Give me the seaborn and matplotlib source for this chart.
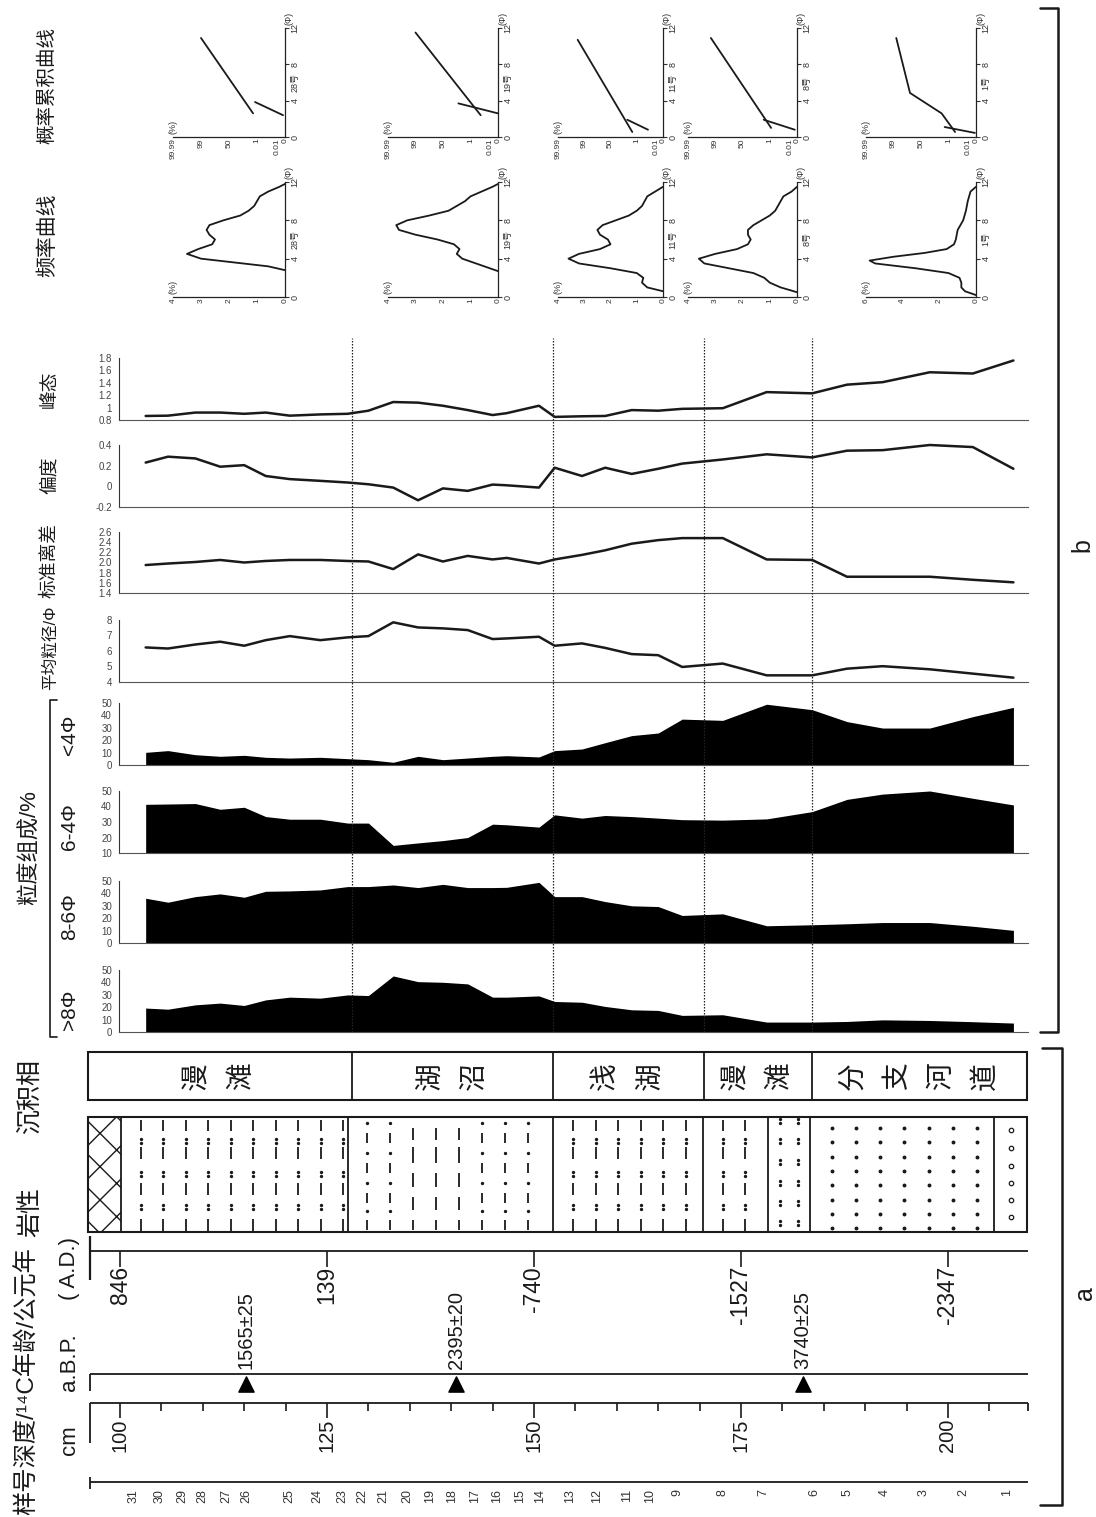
import numpy as np
import matplotlib
matplotlib.use("Agg")
import matplotlib.pyplot as plt
from matplotlib.patches import Rectangle
import seaborn as sns

W, H = 1096, 1517

# ---------------- data (samples listed from 31 down to 1) ----------------
sample_no = list(range(31, 0, -1))
sample_label_depth = [101.6, 104.8, 107.5, 110.0, 112.9, 115.3, 120.5, 123.8, 126.9, 129.3,
                      131.8, 134.7, 137.4, 140.1, 142.9, 145.5, 148.3, 150.7, 154.3, 157.6,
                      161.2, 164.0, 167.3, 172.8, 177.7, 183.9, 187.9, 192.4, 197.0, 201.8, 207.1]
sample_depth = [103.1, 105.8, 109.1, 112.1, 115.0, 117.6, 120.5, 124.2, 127.5, 130.0,
                133.0, 136.0, 139.0, 142.0, 145.0, 146.7, 150.6, 152.5, 155.8, 158.6,
                161.8, 165.0, 167.9, 172.8, 178.1, 183.6, 187.8, 192.1, 197.8, 203.0, 207.9]

gt8 = [19.3, 18.4, 21.9, 23.3, 21.4, 25.9, 28.1, 27.3, 29.9, 29.4, 45.2, 40.6, 40.1, 38.8, 28.1, 28.1,
       29.1, 24.6, 24.0, 20.6, 17.9, 17.4, 13.4, 13.9, 8.0, 8.0, 8.5, 9.8, 9.3, 8.3, 7.2]
p8_6 = [36.1, 32.9, 37.4, 39.6, 36.9, 41.7, 42.0, 42.8, 45.5, 45.5, 46.8, 44.7, 47.3, 44.7, 44.7, 44.9,
        48.9, 37.4, 37.4, 33.4, 30.0, 29.4, 22.2, 23.5, 13.9, 14.7, 15.5, 16.5, 16.5, 13.5, 10.2]
p6_4 = [41.4, 41.6, 41.9, 38.2, 39.5, 33.5, 31.8, 31.8, 29.3, 29.3, 14.9, 16.5, 18.0, 20.0, 28.6, 28.2,
        26.7, 34.6, 32.5, 34.2, 33.5, 32.5, 31.5, 31.2, 32.0, 36.7, 44.6, 48.0, 50.0, 45.3, 41.0]
lt4 = [10.2, 11.6, 8.3, 7.0, 7.8, 6.2, 5.6, 6.2, 5.1, 4.3, 2.2, 7.0, 4.3, 5.6, 7.0, 7.5,
       6.5, 11.6, 12.9, 18.0, 23.7, 25.8, 37.0, 36.0, 49.0, 44.6, 35.0, 29.8, 29.8, 39.0, 46.5]
mean_phi = [6.23, 6.16, 6.42, 6.60, 6.34, 6.70, 6.96, 6.70, 6.88, 6.96, 7.85, 7.52, 7.46, 7.35, 6.77, 6.81,
            6.92, 6.34, 6.49, 6.20, 5.80, 5.73, 4.97, 5.19, 4.43, 4.43, 4.86, 5.02, 4.82, 4.54, 4.28]
std_dev = [1.95, 1.98, 2.01, 2.05, 2.00, 2.03, 2.05, 2.05, 2.03, 2.02, 1.87, 2.16, 2.02, 2.13, 2.06, 2.09,
           1.98, 2.06, 2.15, 2.24, 2.37, 2.44, 2.48, 2.48, 2.06, 2.05, 1.72, 1.72, 1.72, 1.66, 1.61]
skewness = [0.23, 0.287, 0.27, 0.19, 0.205, 0.10, 0.07, 0.053, 0.037, 0.02, -0.012, -0.135, -0.02, -0.044,
            0.017, 0.01, -0.012, 0.18, 0.10, 0.18, 0.12, 0.17, 0.22, 0.26, 0.31, 0.28, 0.345, 0.35, 0.40,
            0.38, 0.17]
kurtosis = [0.865, 0.87, 0.92, 0.92, 0.90, 0.92, 0.87, 0.89, 0.90, 0.95, 1.09, 1.08, 1.03, 0.96, 0.88, 0.91,
            1.03, 0.85, 0.86, 0.865, 0.96, 0.95, 0.98, 0.99, 1.25, 1.23, 1.37, 1.41, 1.57, 1.55, 1.76]

depth_ticks = [100, 125, 150, 175, 200]
ad_labels = ['846', '139', '-740', '-1527', '-2347']
c14_depth = [115.2, 140.6, 182.5]
c14_labels = ['1565±25', '2395±20', '3740±25']

litho_bounds = [96.1, 100.1, 127.5, 152.3, 170.4, 178.3, 183.3, 205.6, 209.6]
litho_kind = ['peat', 'silty_clay', 'clay', 'silty_clay', 'silty_clay', 'silt', 'sand', 'gravel']
facies_bounds = [96.1, 128.0, 152.3, 170.5, 183.6, 209.6]
facies_names = ['漫滩', '湖沼', '浅湖', '漫滩', '分支河道']

# grain-size frequency curves (phi, %) and probability cumulative segments (prob position, phi)
psd_names = ['28号', '19号', '11号', '8号', '1号']
freq_phi_28 = [2.8, 3.2, 3.6, 4.0, 4.5, 5.0, 5.5, 6.0, 6.5, 7.0, 7.5, 8.0, 8.5, 9.0, 9.5, 10.0, 10.5, 11.0, 11.5, 11.8]
freq_pct_28 = [0, 0.6, 1.8, 3.0, 3.5, 3.1, 2.6, 2.5, 2.7, 2.8, 2.7, 2.2, 1.6, 1.3, 1.1, 1.0, 0.9, 0.6, 0.2, 0]
freq_phi_19 = [2.7, 3.0, 3.5, 4.0, 4.5, 5.0, 5.5, 6.0, 6.5, 7.0, 7.5, 8.0, 8.5, 9.0, 9.5, 10.0, 10.5, 11.0, 11.5, 11.8]
freq_pct_19 = [0, 0.3, 0.8, 1.3, 1.5, 1.4, 1.6, 2.2, 3.0, 3.6, 3.7, 3.3, 2.5, 1.8, 1.5, 1.2, 1.0, 0.6, 0.2, 0]
freq_phi_11 = [0.6, 1.0, 1.5, 2.0, 2.5, 3.0, 3.5, 4.0, 4.5, 5.0, 5.5, 6.0, 6.5, 7.0, 7.5, 8.0, 8.5, 9.0, 9.5,
               10.0, 10.5, 11.0, 11.5]
freq_pct_11 = [0, 0.6, 0.8, 0.75, 1.0, 2.0, 3.2, 3.6, 3.2, 2.4, 2.0, 2.1, 2.4, 2.5, 2.3, 1.8, 1.3, 1.0, 0.8,
               0.7, 0.6, 0.3, 0]
freq_phi_8 = [0.5, 1.0, 1.5, 2.0, 2.5, 3.0, 3.5, 4.0, 4.5, 5.0, 5.5, 6.0, 6.5, 7.0, 7.5, 8.0, 8.5, 9.0, 9.5,
              10.0, 10.5, 11.0, 11.5]
freq_pct_8 = [0, 0.6, 1.0, 1.2, 1.6, 2.5, 3.4, 3.6, 3.0, 2.2, 1.8, 1.7, 1.8, 1.8, 1.6, 1.3, 1.0, 0.8, 0.7,
              0.6, 0.5, 0.2, 0]
freq_phi_1 = [0.2, 0.6, 1.0, 1.5, 2.0, 2.5, 3.0, 3.5, 3.8, 4.2, 4.6, 5.0, 5.5, 6.0, 7.0, 8.0, 9.0, 10.0, 11.0, 11.5]
freq_pct_1 = [0, 0.6, 0.8, 0.8, 0.9, 1.5, 3.3, 5.5, 5.8, 4.5, 2.8, 1.6, 1.2, 1.1, 1.0, 0.7, 0.55, 0.45, 0.3, 0]
freq_max = [4, 4, 4, 4, 6]

cum_28 = [([0.07, 1.07], [2.4, 3.85]), ([1.14, 3.0], [2.6, 10.9])]
cum_19 = [([0.0, 1.44], [2.6, 3.7]), ([0.63, 3.0], [2.4, 11.5])]
cum_11 = [([0.57, 1.36], [0.8, 1.9]), ([1.17, 3.25], [0.55, 10.7])]
cum_8 = [([0.08, 1.22], [0.8, 1.9]), ([0.95, 3.16], [1.0, 10.9])]
cum_1 = [([0.04, 1.14], [0.45, 1.1]), ([0.76, 1.25, 2.4, 2.9], [0.55, 2.6, 4.85, 10.9])]
prob_pos = [0, 0.27, 1, 2, 3, 4]
prob_labels = ['0', '0.01', '1', '50', '99', '99.99']

# ---------------- style ----------------
sns.set_theme(style="white")
plt.rcParams['font.family'] = ['Liberation Sans', 'Noto Sans CJK SC', 'DejaVu Sans']
plt.rcParams['hatch.linewidth'] = 1.0
INK = '#1a1a1a'

fig = plt.figure(figsize=(W / 100, H / 100), dpi=100)

PX100, PXCM = 120.0, 8.28


def px2d(px):
    return 100 + (px - PX100) / PXCM


def add_px_axes(x0, y0, x1, y1):
    return fig.add_axes([x0 / W, 1 - y1 / H, (x1 - x0) / W, (y1 - y0) / H])


# ---------------- profile panels ----------------
panel_rows = [
    ('line', kurtosis, (0.8, 1.8), [0.8, 1.0, 1.2, 1.4, 1.6, 1.8], ['0.8', '1', '1.2', '1.4', '1.6', '1.8'], 358, 420),
    ('line', skewness, (-0.2, 0.4), [-0.2, 0, 0.2, 0.4], ['-0.2', '0', '0.2', '0.4'], 445, 507),
    ('line', std_dev, (1.4, 2.6), [1.4, 1.6, 1.8, 2.0, 2.2, 2.4, 2.6],
     ['1.4', '1.6', '1.8', '2.0', '2.2', '2.4', '2.6'], 532, 593),
    ('line', mean_phi, (4, 8), [4, 5, 6, 7, 8], ['4', '5', '6', '7', '8'], 620, 682),
    ('area', lt4, (0, 50), [0, 10, 20, 30, 40, 50], ['0', '10', '20', '30', '40', '50'], 703, 765),
    ('area', p6_4, (10, 50), [10, 20, 30, 40, 50], ['10', '20', '30', '40', '50'], 791, 853),
    ('area', p8_6, (0, 50), [0, 10, 20, 30, 40, 50], ['0', '10', '20', '30', '40', '50'], 881, 943),
    ('area', gt8, (0, 50), [0, 10, 20, 30, 40, 50], ['0', '10', '20', '30', '40', '50'], 970, 1032),
]
PX_L, PX_R = 119, 1028
for kind, vals, ylim, ticks, labels, ytop, ybot in panel_rows:
    ax = add_px_axes(PX_L, ytop, PX_R, ybot)
    ax.patch.set_alpha(0)
    if kind == 'area':
        ax.fill_between(sample_depth, ylim[0], vals, color='black', lw=0)
    else:
        sns.lineplot(x=sample_depth, y=vals, ax=ax, color=INK, lw=1.8, estimator=None, sort=False)
        ax.lines[-1].set_clip_on(False)
    ax.set_xlim(px2d(PX_L), px2d(PX_R))
    ax.set_ylim(*ylim)
    ax.set_xticks([])
    ax.set_yticks(ticks)
    ax.set_yticklabels(labels)
    ax.tick_params(axis='y', direction='out', length=4, width=0.8, labelsize=7, colors='#444', pad=1)
    for s in ['top', 'right']:
        ax.spines[s].set_visible(False)
    ax.spines['left'].set_color('#333')
    ax.spines['left'].set_linewidth(0.8)
    ax.spines['bottom'].set_color('#555')
    ax.spines['bottom'].set_linewidth(0.8)

# dotted facies boundaries through the panels
dax = add_px_axes(PX_L, 338, PX_R, 1032)
dax.patch.set_alpha(0)
dax.set_xlim(px2d(PX_L), px2d(PX_R))
dax.set_ylim(0, 1)
dax.axis('off')
for b in facies_bounds[1:-1]:
    dax.axvline(b, ls=(0, (1.2, 1.2)), color='#222', lw=0.9)

# ---------------- small grain-size distribution plots ----------------
freq_sets = [(freq_phi_28, freq_pct_28), (freq_phi_19, freq_pct_19), (freq_phi_11, freq_pct_11),
             (freq_phi_8, freq_pct_8), (freq_phi_1, freq_pct_1)]
cum_sets = [cum_28, cum_19, cum_11, cum_8, cum_1]
small_right = [285, 498, 663, 797, 976]
small_left = [173, 388, 558, 688, 866]


def small_axes(x0, x1, y0, y1, name):
    ax = add_px_axes(x0, y0, x1, y1)
    ax.patch.set_alpha(0)
    for s in ['top', 'left']:
        ax.spines[s].set_visible(False)
    for s in ['right', 'bottom']:
        ax.spines[s].set_linewidth(0.9)
        ax.spines[s].set_color('#222')
    ax.yaxis.tick_right()
    ax.set_ylim(0, 12)
    ax.set_yticks([0, 4, 8, 12])
    ax.set_yticklabels(['0', '4', '8', '12'], rotation=90, va='center')
    ax.tick_params(axis='y', direction='out', length=3, width=0.8, labelsize=6.5, colors='#333', pad=1)
    ax.tick_params(axis='x', direction='in', length=3, width=0.8, labelsize=6, colors='#333', pad=1)
    ax.annotate(name, xy=(1, 0.5), xycoords='axes fraction', xytext=(4, 0), textcoords='offset points',
                rotation=90, ha='left', va='center', fontsize=6.5, color='#333', annotation_clip=False)
    ax.annotate('(Φ)', xy=(1, 1), xycoords='axes fraction', xytext=(0, 2), textcoords='offset points',
                rotation=90, ha='left', va='bottom', fontsize=6.5, color='#333', annotation_clip=False)
    ax.annotate('(%)', xy=(0, 0), xycoords='axes fraction', xytext=(0, 2), textcoords='offset points',
                rotation=90, ha='center', va='bottom', fontsize=6.5, color='#333', annotation_clip=False)
    return ax


for i, name in enumerate(psd_names):
    phi, pct = freq_sets[i]
    pmax = freq_max[i]
    fa = small_axes(small_left[i], small_right[i], 182, 297, name)
    sns.lineplot(x=pct, y=phi, ax=fa, color=INK, lw=1.3, estimator=None, sort=False)
    fa.set_xlim(pmax, 0)
    fticks = list(range(0, pmax + 1, 1 if pmax <= 4 else 2))
    fa.set_xticks(fticks)
    fa.set_xticklabels([str(t) for t in fticks], rotation=90)

    ca = small_axes(small_left[i], small_right[i], 28, 137, name)
    for seg_x, seg_y in cum_sets[i]:
        sns.lineplot(x=seg_x, y=seg_y, ax=ca, color=INK, lw=1.3, estimator=None, sort=False)
    ca.set_xlim(4, 0)
    ca.set_xticks(prob_pos)
    ca.set_xticklabels(prob_labels, rotation=90)

# ---------------- bottom columns (depth scale on x, pixel rows on y) ----------------
bot = add_px_axes(0, 1040, W, H)
bot.patch.set_alpha(0)
bot.set_xlim(px2d(0), px2d(W))
bot.set_ylim(H, 1040)
bot.axis('off')
XL, XR = px2d(90), px2d(1028)

# sample numbers
bot.hlines(1482, XL, XR, color=INK, lw=1.3)
bot.vlines(XL, 1477, 1489, color=INK, lw=1.3)
for d, n in zip(sample_label_depth, sample_no):
    bot.text(d, 1489, str(n), rotation=90, ha='center', va='top', fontsize=9, color='#333')

# depth scale
bot.hlines(1403, XL, XR, color=INK, lw=1.3)
bot.vlines([XL, XR], 1403, [1443, 1411], color=INK, lw=1.3)
minor = [d for d in range(105, 210, 5) if d not in depth_ticks]
bot.vlines(minor, 1403, 1411, color=INK, lw=1.2)
bot.vlines(depth_ticks, 1403, 1418, color=INK, lw=1.2)
for d in depth_ticks:
    bot.text(d, 1419, str(d), rotation=90, ha='center', va='top', fontsize=14.5, color=INK)

# 14C ages
bot.hlines(1374, XL, XR, color=INK, lw=1.3)
bot.vlines(XL, 1374, 1391, color=INK, lw=1.3)
bot.scatter(c14_depth, [1384] * len(c14_depth), marker='^', s=120, color='black', zorder=3)
for d, lab in zip(c14_depth, c14_labels):
    bot.text(d, 1369, lab, rotation=90, ha='center', va='bottom', fontsize=14.5, color=INK)

# calendar ages
bot.hlines(1251, XL, XR, color=INK, lw=1.3)
bot.vlines(XL, 1236, 1280, color=INK, lw=1.6)
bot.vlines(depth_ticks, 1251, 1267, color=INK, lw=1.2)
for d, lab in zip(depth_ticks, ad_labels):
    bot.text(d, 1266, lab, rotation=90, ha='center', va='top', fontsize=16.5, color=INK)

# lithology column
LT, LB = 1117, 1232
bot.add_patch(Rectangle((litho_bounds[0], LT), litho_bounds[-1] - litho_bounds[0], LB - LT,
                        fill=False, ec=INK, lw=1.5, zorder=4))
bot.vlines(litho_bounds[1:-1], LT, LB, color=INK, lw=1.3)


def cols(d0, d1, off_px, step_px):
    return np.arange(d0 + off_px / PXCM, d1 - 4 / PXCM, step_px / PXCM)


for kind, d0, d1 in zip(litho_kind, litho_bounds[:-1], litho_bounds[1:]):
    if kind == 'peat':
        bot.add_patch(Rectangle((d0, LT), d1 - d0, LB - LT, fill=False, hatch='x', ec=INK, lw=0))
    elif kind == 'silty_clay':
        for x in cols(d0, d1, 20, 22.5):
            for y0, y1 in [(1120, 1131), (1147, 1159), (1183, 1195), (1219, 1231)]:
                bot.vlines(x, y0, y1, color=INK, lw=1.3)
            for yc in [1141, 1174, 1207]:
                bot.plot([x, x], [yc - 2, yc + 2], ls='none', marker='o', ms=1.4, color=INK)
    elif kind == 'clay':
        for j, x in enumerate(cols(d0, d1, 19, 23)):
            if j in (2, 3, 4):
                for y0, y1 in [(1128, 1140), (1147, 1163), (1173, 1187), (1197, 1210), (1220, 1230)]:
                    bot.vlines(x, y0, y1, color=INK, lw=1.3)
            else:
                for y0, y1 in [(1133, 1143), (1163, 1173), (1193, 1203), (1220, 1230)]:
                    bot.vlines(x, y0, y1, color=INK, lw=1.3)
                bot.plot([x] * 4, [1123, 1153, 1183, 1211], ls='none', marker='o', ms=1.4, color=INK)
    elif kind == 'silt':
        for x in cols(d0, d1, 12, 18):
            for yc in [1121, 1141, 1162, 1183, 1203, 1223]:
                bot.plot([x, x], [yc - 2, yc + 2], ls='none', marker='o', ms=1.4, color=INK)
    elif kind == 'sand':
        for x in cols(d0, d1, 22, 24.2):
            bot.plot([x] * 8, [1128 + 14.3 * k for k in range(8)], ls='none', marker='o', ms=1.8, color=INK)
    elif kind == 'gravel':
        xc = (d0 + d1) / 2
        bot.plot([xc] * 6, [1130, 1148, 1166, 1183, 1200, 1217], ls='none', marker='o', ms=3.2,
                 mfc='none', mec=INK, mew=0.9)

# sedimentary facies column
FT, FB = 1052, 1100
bot.add_patch(Rectangle((facies_bounds[0], FT), facies_bounds[-1] - facies_bounds[0], FB - FT,
                        fill=False, ec=INK, lw=1.5))
bot.vlines(facies_bounds[1:-1], FT, FB, color=INK, lw=1.3)
CHAR_STEP = 44 / PXCM
for name, d0, d1 in zip(facies_names, facies_bounds[:-1], facies_bounds[1:]):
    mid = (d0 + d1) / 2
    n = len(name)
    for k, ch in enumerate(name):
        bot.text(mid + (k - (n - 1) / 2) * CHAR_STEP, 1076, ch, rotation=90, ha='center', va='center',
                 fontsize=20, color=INK)

# ---------------- labels, brackets (pixel overlay) ----------------
ov = fig.add_axes([0, 0, 1, 1])
ov.patch.set_alpha(0)
ov.set_xlim(0, W)
ov.set_ylim(H, 0)
ov.axis('off')


def vtext(x, y, s, size, va='center'):
    ov.text(x, y, s, rotation=90, ha='center', va=va, fontsize=size, color=INK)


vtext(47, 85, '概率累积曲线', 14)
vtext(47, 235, '频率曲线', 15)
vtext(50, 389, '峰态', 13.5)
vtext(50, 475, '偏度', 13.5)
vtext(50, 560, '标准离差', 13.5)
vtext(50, 648, '平均粒径/Φ', 12)
vtext(70, 735, '<4Φ', 15)
vtext(70, 827, '6-4Φ', 15)
vtext(70, 917, '8-6Φ', 15)
vtext(70, 1010, '>8Φ', 15)
vtext(30, 848, '粒度组成/%', 16)
ov.plot([57, 50, 50, 57], [700, 700, 1037, 1037], color=INK, lw=1.2)

vtext(27, 1515, '样号深度/¹⁴C年龄/公元年', 17.5, va='bottom')
vtext(30, 1212, '岩性', 18)
vtext(30, 1097, '沉积相', 18)
vtext(70, 1440, 'cm', 16)
vtext(70, 1362, 'a.B.P.', 16)
vtext(70, 1268, '( A.D.)', 16)

ov.plot([1040, 1058, 1058, 1040], [8, 8, 1032, 1032], color=INK, lw=1.8)
ov.plot([1042, 1062, 1062, 1040], [1048, 1048, 1505, 1505], color=INK, lw=1.8)
vtext(1082, 545, 'b', 18)
vtext(1085, 1293, 'a', 18)

fig.savefig('out.png', dpi=100)
